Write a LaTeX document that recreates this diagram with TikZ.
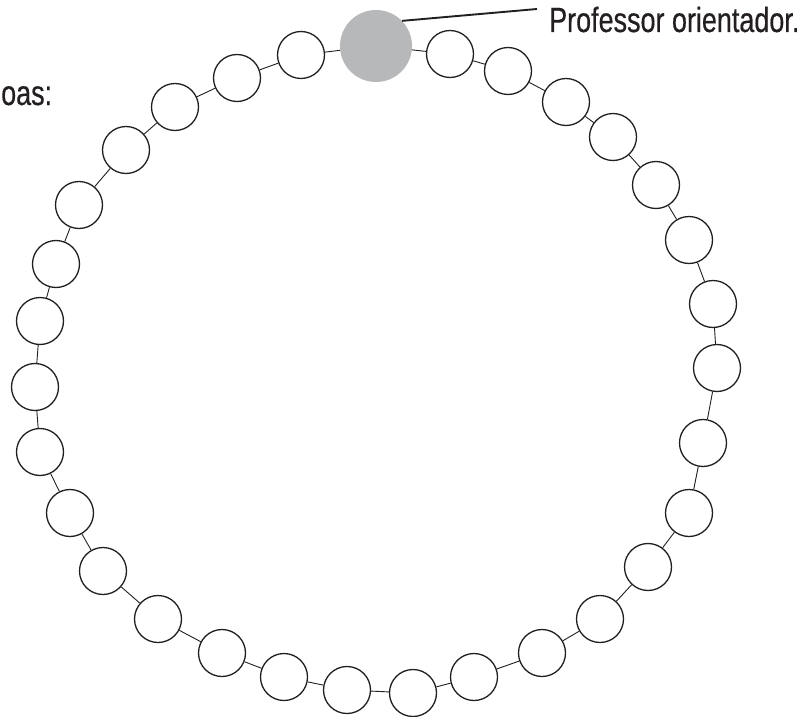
\documentclass[tikz,border=0pt]{standalone}
\usepackage{fontspec}
\setmainfont[FakeStretch=0.77,FakeBold=0.4]{Liberation Sans}
\definecolor{ink}{HTML}{231F20}
\definecolor{prof}{HTML}{B7B8BA}
\begin{document}
\begin{tikzpicture}[x=1pt,y=-1pt,
  bead/.style={circle,draw=ink,line width=1.3pt,fill=white,inner sep=0pt,minimum size=47pt},
  profbead/.style={circle,fill=prof,inner sep=0pt,minimum size=72pt},
  link/.style={draw=ink,line width=0.9pt},
  leader/.style={draw=ink,line width=1.9pt},
  lbl/.style={inner sep=0pt,font=\fontsize{35pt}{40pt}\selectfont,text=ink}]
\useasboundingbox (0,0) rectangle (806,717);
\node[profbead] (c0) at (376,46) {};
\foreach \i/\x/\y in {1/450/54,2/508/71,3/566/102,4/613/137,5/656/185,6/689/240,7/713/304,8/717/368,9/703/443,10/689/513,11/648/567,12/600/619,13/542/653,14/474/677,15/413/693,16/347/690,17/284/677,18/222/653,19/158/619,20/103/571,21/70/513,22/40/452,23/35/387,24/40/321,25/56/264,26/79/205,27/126/150,28/175/107,29/237/78,30/301/55}
  {\node[bead] (c\i) at (\x,\y) {};}
\foreach \a/\b in {0/1,1/2,2/3,3/4,4/5,5/6,6/7,7/8,8/9,9/10,10/11,11/12,12/13,13/14,14/15,15/16,16/17,17/18,18/19,19/20,20/21,21/22,22/23,23/24,24/25,25/26,26/27,27/28,28/29,29/30,30/0}
  {\path[link] (c\a) -- (c\b);}
\coordinate (lead) at (537,9);
\path[leader] (c0.44) -- (lead);
\node[lbl,anchor=base west] (prof) at (549,32) {Professor orientador.};
\node[lbl,anchor=base west] (oas) at (1,105) {oas:};
\end{tikzpicture}
\end{document}
